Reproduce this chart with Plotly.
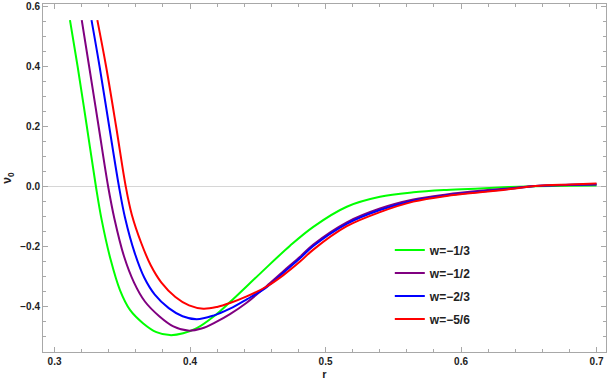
import plotly.graph_objects as go

# curve values (r, nu_0)
r_w13 = [0.3114, 0.317, 0.3238, 0.3305, 0.3348, 0.3415, 0.3483, 0.3557, 0.3655, 0.3752,
         0.3852, 0.395, 0.405, 0.4172, 0.4295, 0.4517, 0.4738, 0.491, 0.5157,
         0.5402, 0.5648, 0.5894, 0.614, 0.635, 0.655, 0.68, 0.7]
v_w13 = [0.553, 0.4, 0.2, 0.0, -0.113, -0.247, -0.347, -0.413, -0.458, -0.487,
         -0.497, -0.491, -0.474, -0.436, -0.387, -0.292, -0.199, -0.136, -0.069,
         -0.036, -0.021, -0.013, -0.008, -0.0035, -0.0008, 0.001, 0.002]

r_w12 = [0.3201, 0.3255, 0.3325, 0.3395, 0.3442, 0.3514, 0.3587, 0.3667, 0.3773, 0.3877,
         0.3985, 0.4085, 0.4197, 0.4295, 0.4418, 0.4566, 0.4689, 0.4812, 0.491, 0.5157,
         0.5402, 0.5648, 0.5894, 0.614, 0.635, 0.655, 0.68, 0.7]
v_w12 = [0.553, 0.4, 0.2, 0.0, -0.109, -0.236, -0.322, -0.385, -0.434, -0.468,
         -0.482, -0.475, -0.452, -0.427, -0.389, -0.333, -0.284, -0.236, -0.195, -0.121,
         -0.075, -0.045, -0.028, -0.016, -0.008, 0.0, 0.003, 0.005]

r_w23 = [0.3273, 0.3332, 0.3403, 0.3475, 0.352, 0.3591, 0.3662, 0.374, 0.3843, 0.3945,
         0.405, 0.4172, 0.4295, 0.4418, 0.4566, 0.4689, 0.4812, 0.491, 0.5157, 0.5402,
         0.5648, 0.5894, 0.614, 0.635, 0.655, 0.68, 0.7]
v_w23 = [0.553, 0.4, 0.2, 0.0, -0.105, -0.222, -0.305, -0.362, -0.407, -0.434,
         -0.444, -0.432, -0.409, -0.378, -0.337, -0.289, -0.241, -0.2, -0.126, -0.08,
         -0.049, -0.031, -0.019, -0.01, 0.0, 0.004, 0.006]

r_w56 = [0.3316, 0.338, 0.3454, 0.3525, 0.357, 0.364, 0.3711, 0.3789, 0.3892, 0.3993,
         0.4098, 0.42, 0.4295, 0.4418, 0.4566, 0.4689, 0.4812, 0.491, 0.5157, 0.5402,
         0.5648, 0.5894, 0.614, 0.635, 0.655, 0.68, 0.7]
v_w56 = [0.553, 0.4, 0.2, 0.0, -0.095, -0.19, -0.265, -0.322, -0.37, -0.398,
         -0.409, -0.403, -0.39, -0.368, -0.335, -0.297, -0.252, -0.212, -0.134, -0.087,
         -0.052, -0.033, -0.021, -0.011, 0.0, 0.005, 0.008]

series = [
    ("w=\u22121/3", r_w13, v_w13, "#00ff00"),
    ("w=\u22121/2", r_w12, v_w12, "#800080"),
    ("w=\u22122/3", r_w23, v_w23, "#0000ff"),
    ("w=\u22125/6", r_w56, v_w56, "#ff0000"),
]

fig = go.Figure()
for i, (name, xs, ys, color) in enumerate(series):
    fig.add_trace(
        go.Scatter(
            x=xs,
            y=ys,
            mode="lines",
            name=name,
            legendgroup=str(i),
            line=dict(color=color, width=2, shape="spline", smoothing=1.0),
        )
    )

frame = "#a8a8a8"
axis_common = dict(
    showline=True,
    linecolor=frame,
    linewidth=1,
    mirror="ticks",
    ticks="inside",
    tickcolor=frame,
    ticklen=5,
    showgrid=False,
    automargin=False,
    tickfont=dict(family="Liberation Sans", size=10, color="#222222", weight="bold"),
)

fig.update_layout(
    width=608,
    height=387,
    margin=dict(l=43, r=2, t=4, b=35),
    paper_bgcolor="white",
    plot_bgcolor="white",
    font=dict(family="Liberation Sans", color="#222222"),
    xaxis=dict(
        range=[0.2915, 0.707],
        tickvals=[0.3, 0.4, 0.5, 0.6, 0.7],
        ticktext=["0.3", "0.4", "0.5", "0.6", "0.7"],
        minor=dict(dtick=0.02, tick0=0.3, ticks="inside", ticklen=3, tickcolor=frame),
        zeroline=False,
        title=dict(text="r", font=dict(size=11, weight="bold"), standoff=4),
        **axis_common,
    ),
    yaxis=dict(
        range=[-0.5533, 0.6067],
        tickvals=[-0.4, -0.2, 0.0, 0.2, 0.4, 0.6],
        ticktext=["\u22120.4", "\u22120.2", "0.0", "0.2", "0.4", "0.6"],
        minor=dict(dtick=0.05, tick0=0, ticks="inside", ticklen=3, tickcolor=frame),
        zeroline=True,
        zerolinecolor="#d6d6d6",
        zerolinewidth=1,
        title=dict(text="\u03bd<sub>0</sub>", font=dict(size=12, weight="bold"), standoff=6),
        **axis_common,
    ),
    legend=dict(
        x=0.616,
        y=0.335,
        xanchor="left",
        yanchor="top",
        bgcolor="rgba(0,0,0,0)",
        tracegroupgap=4,
        font=dict(family="Liberation Sans", size=12, color="#222222", weight="bold"),
    ),
    showlegend=True,
)

# the page body has a default 8px margin; drop it so the chart sits at the corner
fig.write_html(
    "out.html",
    config={"displayModeBar": False},
    post_script="document.body.style.margin='0';",
)
